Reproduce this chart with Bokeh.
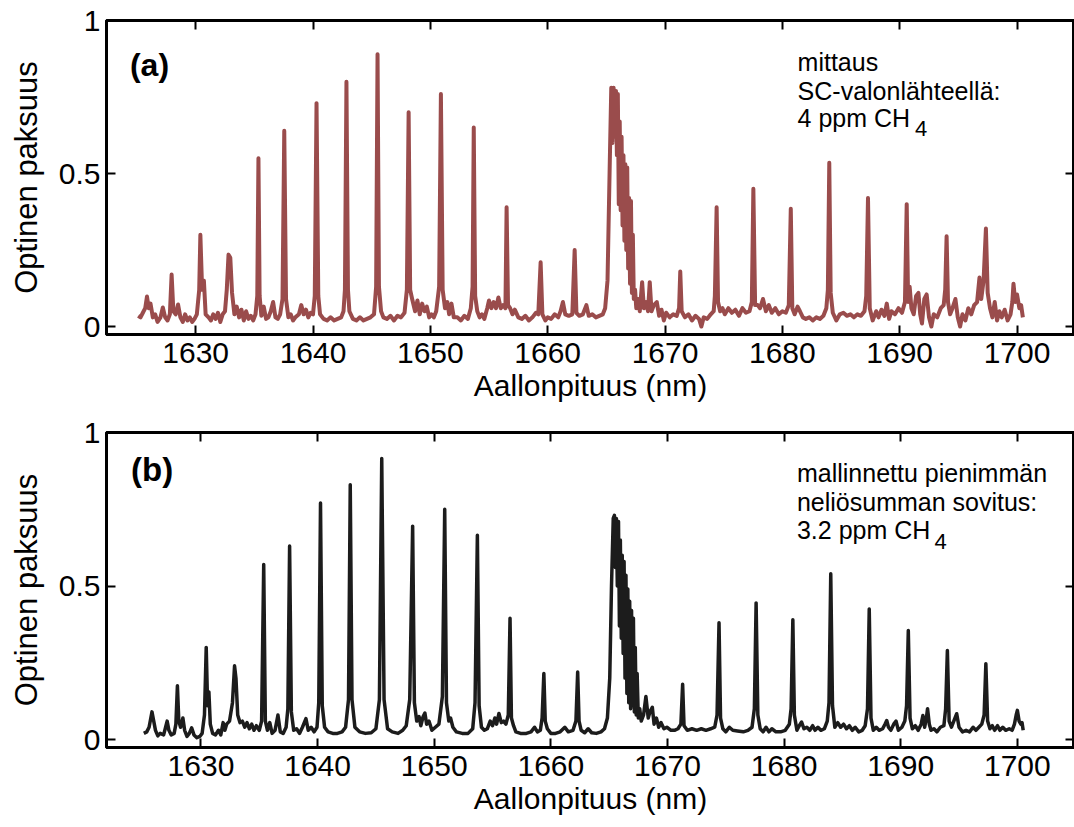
from bokeh.plotting import figure
from bokeh.layouts import column
from bokeh.models import Range1d, LinearAxis, FixedTicker, Label
from bokeh.embed import file_html
from bokeh.resources import INLINE

# ---------------- data ----------------
x_ticks = [1630, 1640, 1650, 1660, 1670, 1680, 1690, 1700]
y_ticks = [0, 0.5, 1]
y_tick_labels = ["0", "0.5", "1"]
x_label = "Aallonpituus (nm)"
y_label = "Optinen paksuus"

note_a = ["mittaus", "SC-valonlähteellä:", "4 ppm CH"]
note_b = ["mallinnettu pienimmän", "neliösumman sovitus:", "3.2 ppm CH"]

# measured spectrum (a): (wavelength nm, optical depth)
trace_a = [
    (1625.1, 0.035), (1625.3, 0.030), (1625.5, 0.045), (1625.7, 0.060), (1625.85, 0.098), (1626.0, 0.060),
    (1626.15, 0.075), (1626.35, 0.030), (1626.55, 0.040), (1626.75, 0.015), (1627.0, 0.030), (1627.2, 0.062),
    (1627.4, 0.030), (1627.6, 0.020), (1627.8, 0.040), (1627.95, 0.170), (1628.1, 0.050), (1628.3, 0.040),
    (1628.5, 0.072), (1628.7, 0.030), (1628.9, 0.015), (1629.1, 0.040), (1629.3, 0.020), (1629.5, 0.030),
    (1629.7, 0.015), (1629.9, 0.025), (1630.1, 0.040), (1630.3, 0.120), (1630.4, 0.300), (1630.55, 0.120),
    (1630.7, 0.150), (1630.85, 0.040), (1631.1, 0.030), (1631.3, 0.020), (1631.5, 0.040), (1631.7, 0.025),
    (1631.9, 0.045), (1632.1, 0.015), (1632.3, 0.040), (1632.5, 0.050), (1632.65, 0.120), (1632.8, 0.235),
    (1632.95, 0.225), (1633.1, 0.110), (1633.3, 0.040), (1633.5, 0.065), (1633.7, 0.030), (1633.9, 0.055),
    (1634.1, 0.020), (1634.3, 0.050), (1634.5, 0.025), (1634.7, 0.035), (1634.9, 0.020), (1635.1, 0.040),
    (1635.25, 0.100), (1635.35, 0.550), (1635.45, 0.100), (1635.6, 0.035), (1635.8, 0.065), (1636.0, 0.025),
    (1636.2, 0.030), (1636.4, 0.050), (1636.6, 0.080), (1636.8, 0.030), (1637.0, 0.025), (1637.2, 0.040),
    (1637.4, 0.090), (1637.55, 0.640), (1637.7, 0.090), (1637.9, 0.030), (1638.1, 0.040), (1638.3, 0.020),
    (1638.5, 0.030), (1638.8, 0.040), (1639.0, 0.070), (1639.2, 0.040), (1639.4, 0.055), (1639.6, 0.030),
    (1639.8, 0.045), (1640.0, 0.040), (1640.15, 0.100), (1640.3, 0.730), (1640.45, 0.100), (1640.6, 0.040),
    (1640.9, 0.025), (1641.2, 0.020), (1641.5, 0.030), (1641.8, 0.020), (1642.1, 0.025), (1642.4, 0.030),
    (1642.6, 0.050), (1642.72, 0.120), (1642.85, 0.800), (1642.98, 0.120), (1643.1, 0.050), (1643.4, 0.025),
    (1643.7, 0.020), (1644.0, 0.030), (1644.3, 0.020), (1644.6, 0.025), (1644.9, 0.030), (1645.2, 0.040),
    (1645.38, 0.130), (1645.5, 0.890), (1645.62, 0.130), (1645.8, 0.050), (1646.0, 0.030), (1646.3, 0.025),
    (1646.6, 0.035), (1646.9, 0.020), (1647.2, 0.035), (1647.5, 0.030), (1647.8, 0.045), (1648.0, 0.120),
    (1648.15, 0.700), (1648.28, 0.120), (1648.45, 0.090), (1648.7, 0.050), (1648.9, 0.085), (1649.1, 0.040),
    (1649.3, 0.075), (1649.5, 0.050), (1649.7, 0.065), (1649.9, 0.030), (1650.1, 0.040), (1650.3, 0.030),
    (1650.5, 0.050), (1650.75, 0.130), (1650.9, 0.760), (1651.05, 0.120), (1651.25, 0.060), (1651.45, 0.080),
    (1651.6, 0.040), (1651.8, 0.075), (1652.0, 0.030), (1652.3, 0.030), (1652.6, 0.020), (1652.9, 0.035),
    (1653.2, 0.025), (1653.45, 0.060), (1653.6, 0.130), (1653.7, 0.650), (1653.82, 0.100), (1654.0, 0.050),
    (1654.2, 0.030), (1654.4, 0.040), (1654.6, 0.025), (1654.85, 0.060), (1655.0, 0.085), (1655.2, 0.060),
    (1655.4, 0.080), (1655.6, 0.060), (1655.8, 0.095), (1656.0, 0.060), (1656.2, 0.070), (1656.4, 0.060),
    (1656.5, 0.390), (1656.62, 0.070), (1656.8, 0.060), (1657.0, 0.040), (1657.2, 0.055), (1657.5, 0.030),
    (1657.8, 0.025), (1658.1, 0.035), (1658.4, 0.020), (1658.7, 0.030), (1659.0, 0.045), (1659.2, 0.040),
    (1659.4, 0.210), (1659.55, 0.040), (1659.8, 0.020), (1660.0, 0.030), (1660.3, 0.025), (1660.6, 0.040),
    (1660.9, 0.030), (1661.1, 0.050), (1661.3, 0.080), (1661.5, 0.040), (1661.8, 0.035), (1662.1, 0.040),
    (1662.3, 0.250), (1662.45, 0.045), (1662.7, 0.035), (1663.0, 0.040), (1663.3, 0.070), (1663.5, 0.035),
    (1663.8, 0.040), (1664.1, 0.030), (1664.4, 0.035), (1664.7, 0.040), (1664.9, 0.060), (1665.1, 0.150),
    (1665.3, 0.550), (1665.42, 0.780), (1665.52, 0.600), (1665.62, 0.780), (1665.72, 0.620), (1665.82, 0.770),
    (1665.9, 0.560), (1665.98, 0.760), (1666.06, 0.400), (1666.14, 0.670), (1666.22, 0.380), (1666.3, 0.620),
    (1666.38, 0.330), (1666.46, 0.560), (1666.54, 0.280), (1666.62, 0.530), (1666.7, 0.250), (1666.78, 0.520),
    (1666.86, 0.190), (1666.94, 0.420), (1667.02, 0.140), (1667.1, 0.410), (1667.18, 0.110), (1667.26, 0.300),
    (1667.34, 0.090), (1667.45, 0.120), (1667.55, 0.060), (1667.7, 0.090), (1667.85, 0.050), (1668.05, 0.145),
    (1668.2, 0.060), (1668.4, 0.080), (1668.55, 0.050), (1668.7, 0.145), (1668.85, 0.050), (1669.05, 0.070),
    (1669.3, 0.080), (1669.5, 0.035), (1669.7, 0.055), (1669.9, 0.020), (1670.1, 0.045), (1670.4, 0.030),
    (1670.7, 0.040), (1671.0, 0.035), (1671.2, 0.060), (1671.3, 0.180), (1671.42, 0.050), (1671.7, 0.030),
    (1672.0, 0.040), (1672.3, 0.020), (1672.6, 0.035), (1672.9, 0.025), (1673.1, 0.000), (1673.3, 0.030),
    (1673.6, 0.025), (1673.9, 0.040), (1674.15, 0.050), (1674.25, 0.100), (1674.4, 0.390), (1674.52, 0.080),
    (1674.7, 0.050), (1674.9, 0.060), (1675.1, 0.040), (1675.4, 0.060), (1675.7, 0.045), (1676.0, 0.055),
    (1676.3, 0.035), (1676.6, 0.060), (1676.9, 0.045), (1677.2, 0.050), (1677.4, 0.080), (1677.53, 0.450),
    (1677.68, 0.070), (1677.9, 0.070), (1678.1, 0.060), (1678.35, 0.090), (1678.6, 0.050), (1678.85, 0.070),
    (1679.1, 0.045), (1679.4, 0.060), (1679.7, 0.040), (1680.0, 0.050), (1680.3, 0.045), (1680.55, 0.070),
    (1680.72, 0.385), (1680.85, 0.060), (1681.05, 0.040), (1681.3, 0.065), (1681.5, 0.050), (1681.75, 0.030),
    (1682.0, 0.025), (1682.3, 0.030), (1682.6, 0.020), (1682.9, 0.030), (1683.2, 0.025), (1683.5, 0.035),
    (1683.75, 0.060), (1683.88, 0.120), (1684.0, 0.535), (1684.12, 0.110), (1684.3, 0.045), (1684.6, 0.020),
    (1684.9, 0.040), (1685.2, 0.045), (1685.5, 0.035), (1685.8, 0.040), (1686.1, 0.030), (1686.4, 0.040),
    (1686.7, 0.035), (1687.0, 0.050), (1687.15, 0.100), (1687.3, 0.420), (1687.45, 0.060), (1687.7, 0.020),
    (1688.0, 0.050), (1688.2, 0.030), (1688.45, 0.055), (1688.7, 0.035), (1688.9, 0.075), (1689.1, 0.025),
    (1689.3, 0.050), (1689.6, 0.040), (1689.9, 0.060), (1690.2, 0.045), (1690.45, 0.080), (1690.6, 0.400),
    (1690.72, 0.080), (1690.85, 0.130), (1691.0, 0.060), (1691.2, 0.040), (1691.4, 0.100), (1691.6, 0.110),
    (1691.75, 0.040), (1691.9, 0.010), (1692.1, 0.090), (1692.3, 0.105), (1692.5, 0.030), (1692.7, 0.000),
    (1692.9, 0.040), (1693.2, 0.030), (1693.5, 0.060), (1693.75, 0.070), (1693.88, 0.120), (1694.0, 0.295),
    (1694.12, 0.080), (1694.3, 0.040), (1694.5, 0.060), (1694.75, 0.090), (1694.95, 0.030), (1695.15, 0.000),
    (1695.35, 0.040), (1695.6, 0.020), (1695.85, 0.060), (1696.1, 0.040), (1696.35, 0.070), (1696.6, 0.080),
    (1696.8, 0.160), (1696.95, 0.090), (1697.15, 0.150), (1697.35, 0.320), (1697.5, 0.110), (1697.7, 0.060),
    (1697.9, 0.030), (1698.1, 0.080), (1698.3, 0.020), (1698.5, 0.050), (1698.7, 0.030), (1698.95, 0.055),
    (1699.2, 0.020), (1699.45, 0.040), (1699.6, 0.080), (1699.7, 0.140), (1699.85, 0.080), (1700.0, 0.105),
    (1700.2, 0.060), (1700.35, 0.070), (1700.5, 0.030),
]

# least-squares model spectrum (b): (wavelength nm, optical depth)
trace_b = [
    (1625.1, 0.020), (1625.35, 0.025), (1625.55, 0.040), (1625.7, 0.070), (1625.8, 0.090), (1625.95, 0.060),
    (1626.1, 0.030), (1626.3, 0.012), (1626.5, 0.020), (1626.8, 0.015), (1627.0, 0.045), (1627.1, 0.060),
    (1627.25, 0.030), (1627.45, 0.015), (1627.7, 0.020), (1627.85, 0.050), (1627.98, 0.175), (1628.1, 0.060),
    (1628.25, 0.040), (1628.45, 0.070), (1628.6, 0.030), (1628.8, 0.010), (1629.0, 0.020), (1629.2, 0.038),
    (1629.4, 0.015), (1629.65, 0.006), (1629.9, 0.010), (1630.1, 0.020), (1630.3, 0.080), (1630.45, 0.300),
    (1630.57, 0.110), (1630.68, 0.155), (1630.8, 0.050), (1631.0, 0.020), (1631.25, 0.015), (1631.5, 0.030),
    (1631.7, 0.015), (1631.9, 0.055), (1632.05, 0.030), (1632.2, 0.050), (1632.45, 0.060), (1632.7, 0.120),
    (1632.88, 0.240), (1633.0, 0.200), (1633.15, 0.080), (1633.35, 0.055), (1633.55, 0.060), (1633.75, 0.040),
    (1633.95, 0.055), (1634.15, 0.035), (1634.35, 0.050), (1634.55, 0.030), (1634.75, 0.045), (1635.0, 0.030),
    (1635.2, 0.060), (1635.38, 0.570), (1635.52, 0.060), (1635.7, 0.030), (1635.9, 0.055), (1636.1, 0.020),
    (1636.35, 0.030), (1636.6, 0.080), (1636.8, 0.025), (1637.05, 0.020), (1637.3, 0.040), (1637.45, 0.100),
    (1637.6, 0.630), (1637.75, 0.090), (1637.95, 0.030), (1638.2, 0.035), (1638.45, 0.020), (1638.7, 0.040),
    (1639.0, 0.068), (1639.2, 0.030), (1639.45, 0.040), (1639.7, 0.025), (1639.95, 0.040), (1640.1, 0.120),
    (1640.25, 0.770), (1640.4, 0.110), (1640.6, 0.040), (1640.9, 0.025), (1641.3, 0.020), (1641.7, 0.020),
    (1642.1, 0.025), (1642.4, 0.040), (1642.65, 0.130), (1642.8, 0.830), (1642.95, 0.130), (1643.2, 0.040),
    (1643.6, 0.025), (1644.1, 0.020), (1644.6, 0.022), (1645.0, 0.035), (1645.3, 0.130), (1645.5, 0.915),
    (1645.7, 0.130), (1646.0, 0.035), (1646.4, 0.025), (1646.9, 0.020), (1647.3, 0.030), (1647.6, 0.045),
    (1647.9, 0.130), (1648.15, 0.695), (1648.3, 0.120), (1648.5, 0.060), (1648.7, 0.075), (1648.85, 0.045),
    (1649.05, 0.075), (1649.2, 0.086), (1649.35, 0.050), (1649.55, 0.060), (1649.8, 0.030), (1650.1, 0.040),
    (1650.4, 0.050), (1650.7, 0.140), (1650.9, 0.750), (1651.05, 0.120), (1651.25, 0.060), (1651.4, 0.070),
    (1651.6, 0.040), (1651.9, 0.025), (1652.4, 0.020), (1652.9, 0.020), (1653.3, 0.035), (1653.5, 0.120),
    (1653.7, 0.665), (1653.85, 0.110), (1654.05, 0.040), (1654.3, 0.030), (1654.55, 0.035), (1654.8, 0.060),
    (1655.0, 0.045), (1655.2, 0.070), (1655.35, 0.050), (1655.55, 0.085), (1655.75, 0.055), (1655.95, 0.060),
    (1656.15, 0.050), (1656.35, 0.080), (1656.5, 0.395), (1656.62, 0.070), (1656.8, 0.045), (1657.0, 0.025),
    (1657.4, 0.020), (1657.9, 0.020), (1658.3, 0.025), (1658.6, 0.040), (1658.85, 0.025), (1659.1, 0.030),
    (1659.25, 0.070), (1659.4, 0.215), (1659.52, 0.060), (1659.7, 0.035), (1660.0, 0.020), (1660.4, 0.020),
    (1660.8, 0.025), (1661.2, 0.040), (1661.5, 0.025), (1661.9, 0.030), (1662.15, 0.060), (1662.3, 0.220),
    (1662.42, 0.060), (1662.6, 0.030), (1662.9, 0.022), (1663.2, 0.035), (1663.5, 0.022), (1663.9, 0.020),
    (1664.3, 0.025), (1664.6, 0.035), (1664.85, 0.070), (1665.05, 0.200), (1665.2, 0.500), (1665.35, 0.720),
    (1665.45, 0.730), (1665.53, 0.560), (1665.62, 0.720), (1665.7, 0.500), (1665.8, 0.710), (1665.88, 0.370),
    (1665.96, 0.650), (1666.04, 0.330), (1666.12, 0.600), (1666.2, 0.280), (1666.28, 0.580), (1666.36, 0.200),
    (1666.44, 0.535), (1666.52, 0.150), (1666.6, 0.490), (1666.68, 0.120), (1666.76, 0.450), (1666.84, 0.100),
    (1666.92, 0.420), (1667.0, 0.110), (1667.08, 0.395), (1667.16, 0.090), (1667.24, 0.300), (1667.32, 0.080),
    (1667.4, 0.215), (1667.5, 0.070), (1667.62, 0.100), (1667.75, 0.060), (1667.95, 0.080), (1668.15, 0.140),
    (1668.35, 0.070), (1668.5, 0.090), (1668.7, 0.105), (1668.85, 0.050), (1669.05, 0.070), (1669.25, 0.040),
    (1669.45, 0.055), (1669.7, 0.035), (1669.95, 0.040), (1670.3, 0.030), (1670.6, 0.030), (1670.9, 0.035),
    (1671.15, 0.050), (1671.3, 0.180), (1671.42, 0.045), (1671.7, 0.030), (1672.1, 0.035), (1672.5, 0.030),
    (1672.9, 0.035), (1673.3, 0.030), (1673.7, 0.035), (1674.05, 0.040), (1674.25, 0.080), (1674.42, 0.380),
    (1674.55, 0.070), (1674.75, 0.035), (1675.0, 0.025), (1675.3, 0.040), (1675.6, 0.030), (1676.0, 0.028),
    (1676.5, 0.025), (1676.9, 0.030), (1677.25, 0.040), (1677.45, 0.100), (1677.6, 0.445), (1677.75, 0.080),
    (1677.95, 0.035), (1678.2, 0.025), (1678.45, 0.040), (1678.7, 0.025), (1678.95, 0.035), (1679.3, 0.025),
    (1679.7, 0.025), (1680.1, 0.030), (1680.45, 0.050), (1680.6, 0.100), (1680.75, 0.390), (1680.88, 0.080),
    (1681.1, 0.030), (1681.3, 0.045), (1681.5, 0.057), (1681.7, 0.035), (1681.95, 0.040), (1682.2, 0.030),
    (1682.45, 0.045), (1682.65, 0.030), (1682.9, 0.040), (1683.15, 0.030), (1683.45, 0.035), (1683.7, 0.060),
    (1683.85, 0.120), (1684.0, 0.540), (1684.15, 0.110), (1684.35, 0.040), (1684.6, 0.055), (1684.85, 0.040),
    (1685.1, 0.050), (1685.35, 0.035), (1685.6, 0.045), (1685.85, 0.030), (1686.1, 0.040), (1686.4, 0.025),
    (1686.7, 0.030), (1686.95, 0.045), (1687.15, 0.100), (1687.3, 0.425), (1687.45, 0.070), (1687.65, 0.030),
    (1687.9, 0.040), (1688.15, 0.030), (1688.45, 0.035), (1688.65, 0.050), (1688.8, 0.062), (1688.95, 0.040),
    (1689.15, 0.030), (1689.4, 0.050), (1689.6, 0.060), (1689.8, 0.030), (1690.1, 0.040), (1690.35, 0.060),
    (1690.5, 0.110), (1690.65, 0.355), (1690.8, 0.070), (1691.0, 0.035), (1691.25, 0.045), (1691.5, 0.030),
    (1691.75, 0.050), (1691.9, 0.078), (1692.05, 0.040), (1692.2, 0.070), (1692.3, 0.100), (1692.45, 0.050),
    (1692.6, 0.030), (1692.85, 0.035), (1693.1, 0.025), (1693.4, 0.040), (1693.7, 0.045), (1693.85, 0.100),
    (1694.0, 0.290), (1694.15, 0.060), (1694.35, 0.040), (1694.55, 0.060), (1694.8, 0.084), (1695.0, 0.040),
    (1695.3, 0.025), (1695.6, 0.030), (1695.9, 0.025), (1696.2, 0.040), (1696.45, 0.030), (1696.7, 0.040),
    (1696.95, 0.050), (1697.15, 0.080), (1697.3, 0.247), (1697.45, 0.060), (1697.65, 0.035), (1697.85, 0.045),
    (1698.05, 0.030), (1698.3, 0.045), (1698.5, 0.030), (1698.75, 0.040), (1699.0, 0.030), (1699.3, 0.035),
    (1699.55, 0.030), (1699.75, 0.050), (1699.9, 0.080), (1700.0, 0.095), (1700.15, 0.060), (1700.3, 0.050),
    (1700.4, 0.055), (1700.5, 0.030),
]

FONT = "Liberation Sans"


def make_panel(trace, color, lw, x_start, x_end, height, b_top, b_bottom, tag, tag_x, tag_y, tag_size,
               note, note_x, note_ys, sub_x, sub_y):
    p = figure(width=1074, height=height,
               x_range=Range1d(x_start, x_end), y_range=Range1d(-0.026, 1.0),
               output_backend="svg", toolbar_location=None,
               min_border_left=106, min_border_right=0, min_border_top=b_top,
               min_border_bottom=b_bottom)
    p.background_fill_color = "white"
    p.border_fill_color = "white"
    p.outline_line_color = "black"
    p.outline_line_width = 3
    p.xgrid.visible = False
    p.ygrid.visible = False

    xs = [t[0] for t in trace]
    ys = [t[1] for t in trace]
    p.line(xs, ys, line_color=color, line_width=lw, line_join="round")

    # bottom / left axes
    xa = p.xaxis[0]
    xa.ticker = FixedTicker(ticks=x_ticks)
    ya = p.yaxis[0]
    ya.ticker = FixedTicker(ticks=y_ticks)
    ya.major_label_overrides = {t: l for t, l in zip(y_ticks, y_tick_labels)}
    for ax in (xa, ya):
        ax.major_tick_in = 9
        ax.major_tick_out = 0
        ax.minor_tick_line_color = None
        ax.major_tick_line_width = 2
        ax.axis_line_width = 3
        ax.major_label_text_font = FONT
        ax.major_label_text_font_size = "30px"
        ax.major_label_text_color = "black"
        ax.axis_label_text_font = FONT
        ax.axis_label_text_font_style = "normal"
        ax.axis_label_text_color = "black"
    xa.axis_label = x_label
    xa.axis_label_text_font_size = "30px"
    xa.major_label_standoff = 8
    xa.axis_label_standoff = 3
    ya.axis_label = y_label
    ya.axis_label_text_font_size = "31px"
    ya.major_label_standoff = 6
    ya.axis_label_standoff = 12

    # mirrored tick marks on top and right
    top = LinearAxis(ticker=FixedTicker(ticks=x_ticks),
                     major_label_overrides={t: "" for t in x_ticks})
    right = LinearAxis(ticker=FixedTicker(ticks=y_ticks),
                       major_label_overrides={t: "" for t in y_ticks})
    for ax in (top, right):
        ax.major_tick_in = 9
        ax.major_tick_out = 0
        ax.minor_tick_line_color = None
        ax.major_tick_line_width = 2
        ax.axis_line_width = 3
        ax.major_label_text_font_size = "0px"
        ax.major_label_standoff = 0
    p.add_layout(top, "above")
    p.add_layout(right, "right")

    p.add_layout(Label(x=tag_x, y=tag_y, text=tag, text_font=FONT, text_font_size=tag_size,
                       text_font_style="bold", text_baseline="middle", text_align="left",
                       text_color="black"))
    for line, yv in zip(note, note_ys):
        p.add_layout(Label(x=note_x, y=yv, text=line, text_font=FONT, text_font_size="25px",
                           text_baseline="alphabetic", text_align="left", text_color="black"))
    p.add_layout(Label(x=sub_x, y=sub_y, text="4", text_font=FONT, text_font_size="22px",
                       text_baseline="alphabetic", text_align="left", text_color="black"))
    return p


pa = make_panel(trace_a, "#9A4C4C", 4.0, 1622.4, 1704.9, 414, 20, 80, "(a)", 1624.4, 0.856, "32px",
                note_a, 1681.3, [0.863, 0.771, 0.680], 1691.3, 0.647)
pb = make_panel(trace_b, "#1c1c1c", 3.5, 1621.9, 1704.9, 413, 18, 80, "(b)", 1624.0, 0.88, "33px",
                note_b, 1681.1, [0.869, 0.775, 0.683], 1692.9, 0.644)

layout = column(pa, pb, spacing=0)
open("out.html", "w").write(file_html(layout, INLINE))
